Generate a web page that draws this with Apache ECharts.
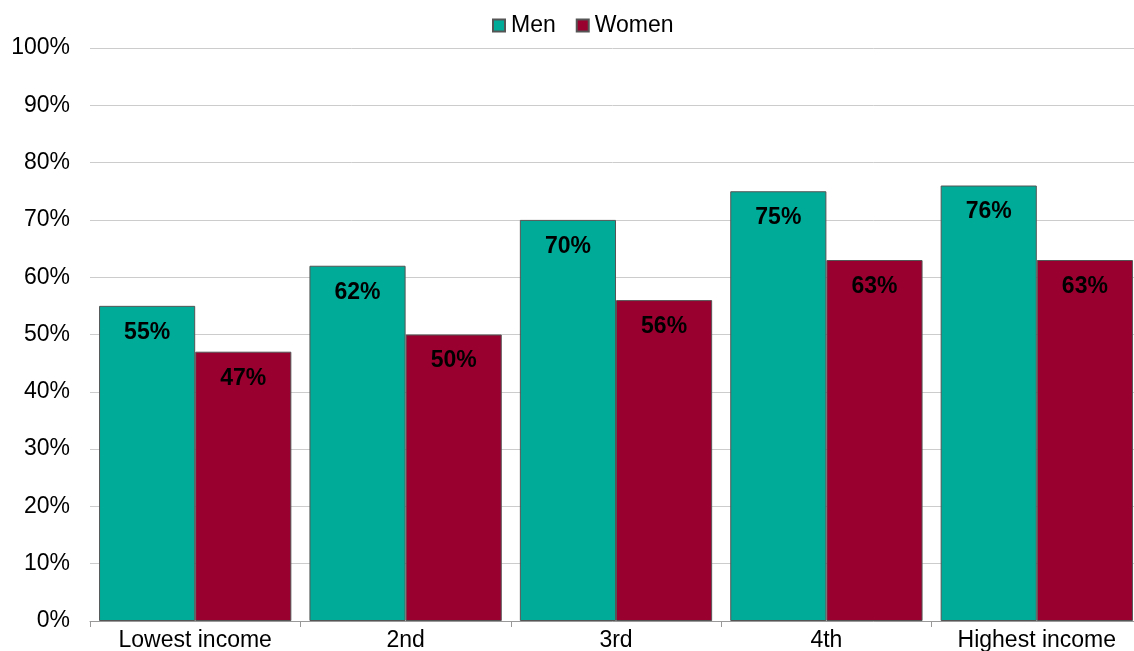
<!DOCTYPE html>
<html>
<head>
<meta charset="utf-8">
<script src="https://cdn.jsdelivr.net/npm/echarts@6/dist/echarts.min.js"></script>
<style>html,body{margin:0;padding:0;background:#fff;overflow:hidden}#c{width:1134px;height:651px}</style>
</head>
<body>
<div id="c"></div>
<script>
const categories = ['Lowest income', '2nd', '3rd', '4th', 'Highest income'];
const men = [55, 62, 70, 75, 76];
const women = [47, 50, 56, 63, 63];
const yTicks = [0, 10, 20, 30, 40, 50, 60, 70, 80, 90, 100];

const chart = echarts.init(document.getElementById('c'));
const font = 'Liberation Sans, Arial, sans-serif';
const lbl = {
  show: true, position: 'insideTop', distance: 15,
  formatter: p => p.value + '%',
  color: '#000', fontWeight: 'bold', fontSize: 23, fontFamily: font
};
chart.setOption({
  animation: false,
  textStyle: { fontFamily: font },
  legend: {
    top: 9, left: 487, itemWidth: 12, itemHeight: 12, itemGap: 20,
    icon: 'rect',
    textStyle: { fontSize: 23, color: '#000', fontFamily: font, padding: [0, 0, 0, 1] },
    data: ['Men', 'Women']
  },
  grid: { left: 90, width: 1052, top: 48, bottom: 30, containLabel: false, outerBoundsMode: 'none' },
  xAxis: {
    type: 'category', data: categories,
    axisLine: { lineStyle: { color: '#999' } },
    axisTick: { show: true, length: 6, lineStyle: { color: '#999' } },
    axisLabel: { fontSize: 23, color: '#000', margin: 8, fontFamily: font }
  },
  yAxis: {
    type: 'value', min: yTicks[0], max: yTicks[yTicks.length - 1], interval: 10,
    axisLine: { show: false },
    axisTick: { show: false },
    splitLine: { lineStyle: { color: '#ccc' } },
    axisLabel: { fontSize: 23, color: '#000', margin: 20, formatter: v => v + '%', fontFamily: font }
  },
  series: [
    { name: 'Men', type: 'bar', data: men, barGap: '0%', barCategoryGap: '8.6%',
      itemStyle: { color: '#00ab98', borderColor: '#555', borderWidth: 1 }, label: lbl },
    { name: 'Women', type: 'bar', data: women, barGap: '0%', barCategoryGap: '8.6%',
      itemStyle: { color: '#990030', borderColor: '#555', borderWidth: 1 }, label: lbl }
  ]
});
</script>
</body>
</html>
